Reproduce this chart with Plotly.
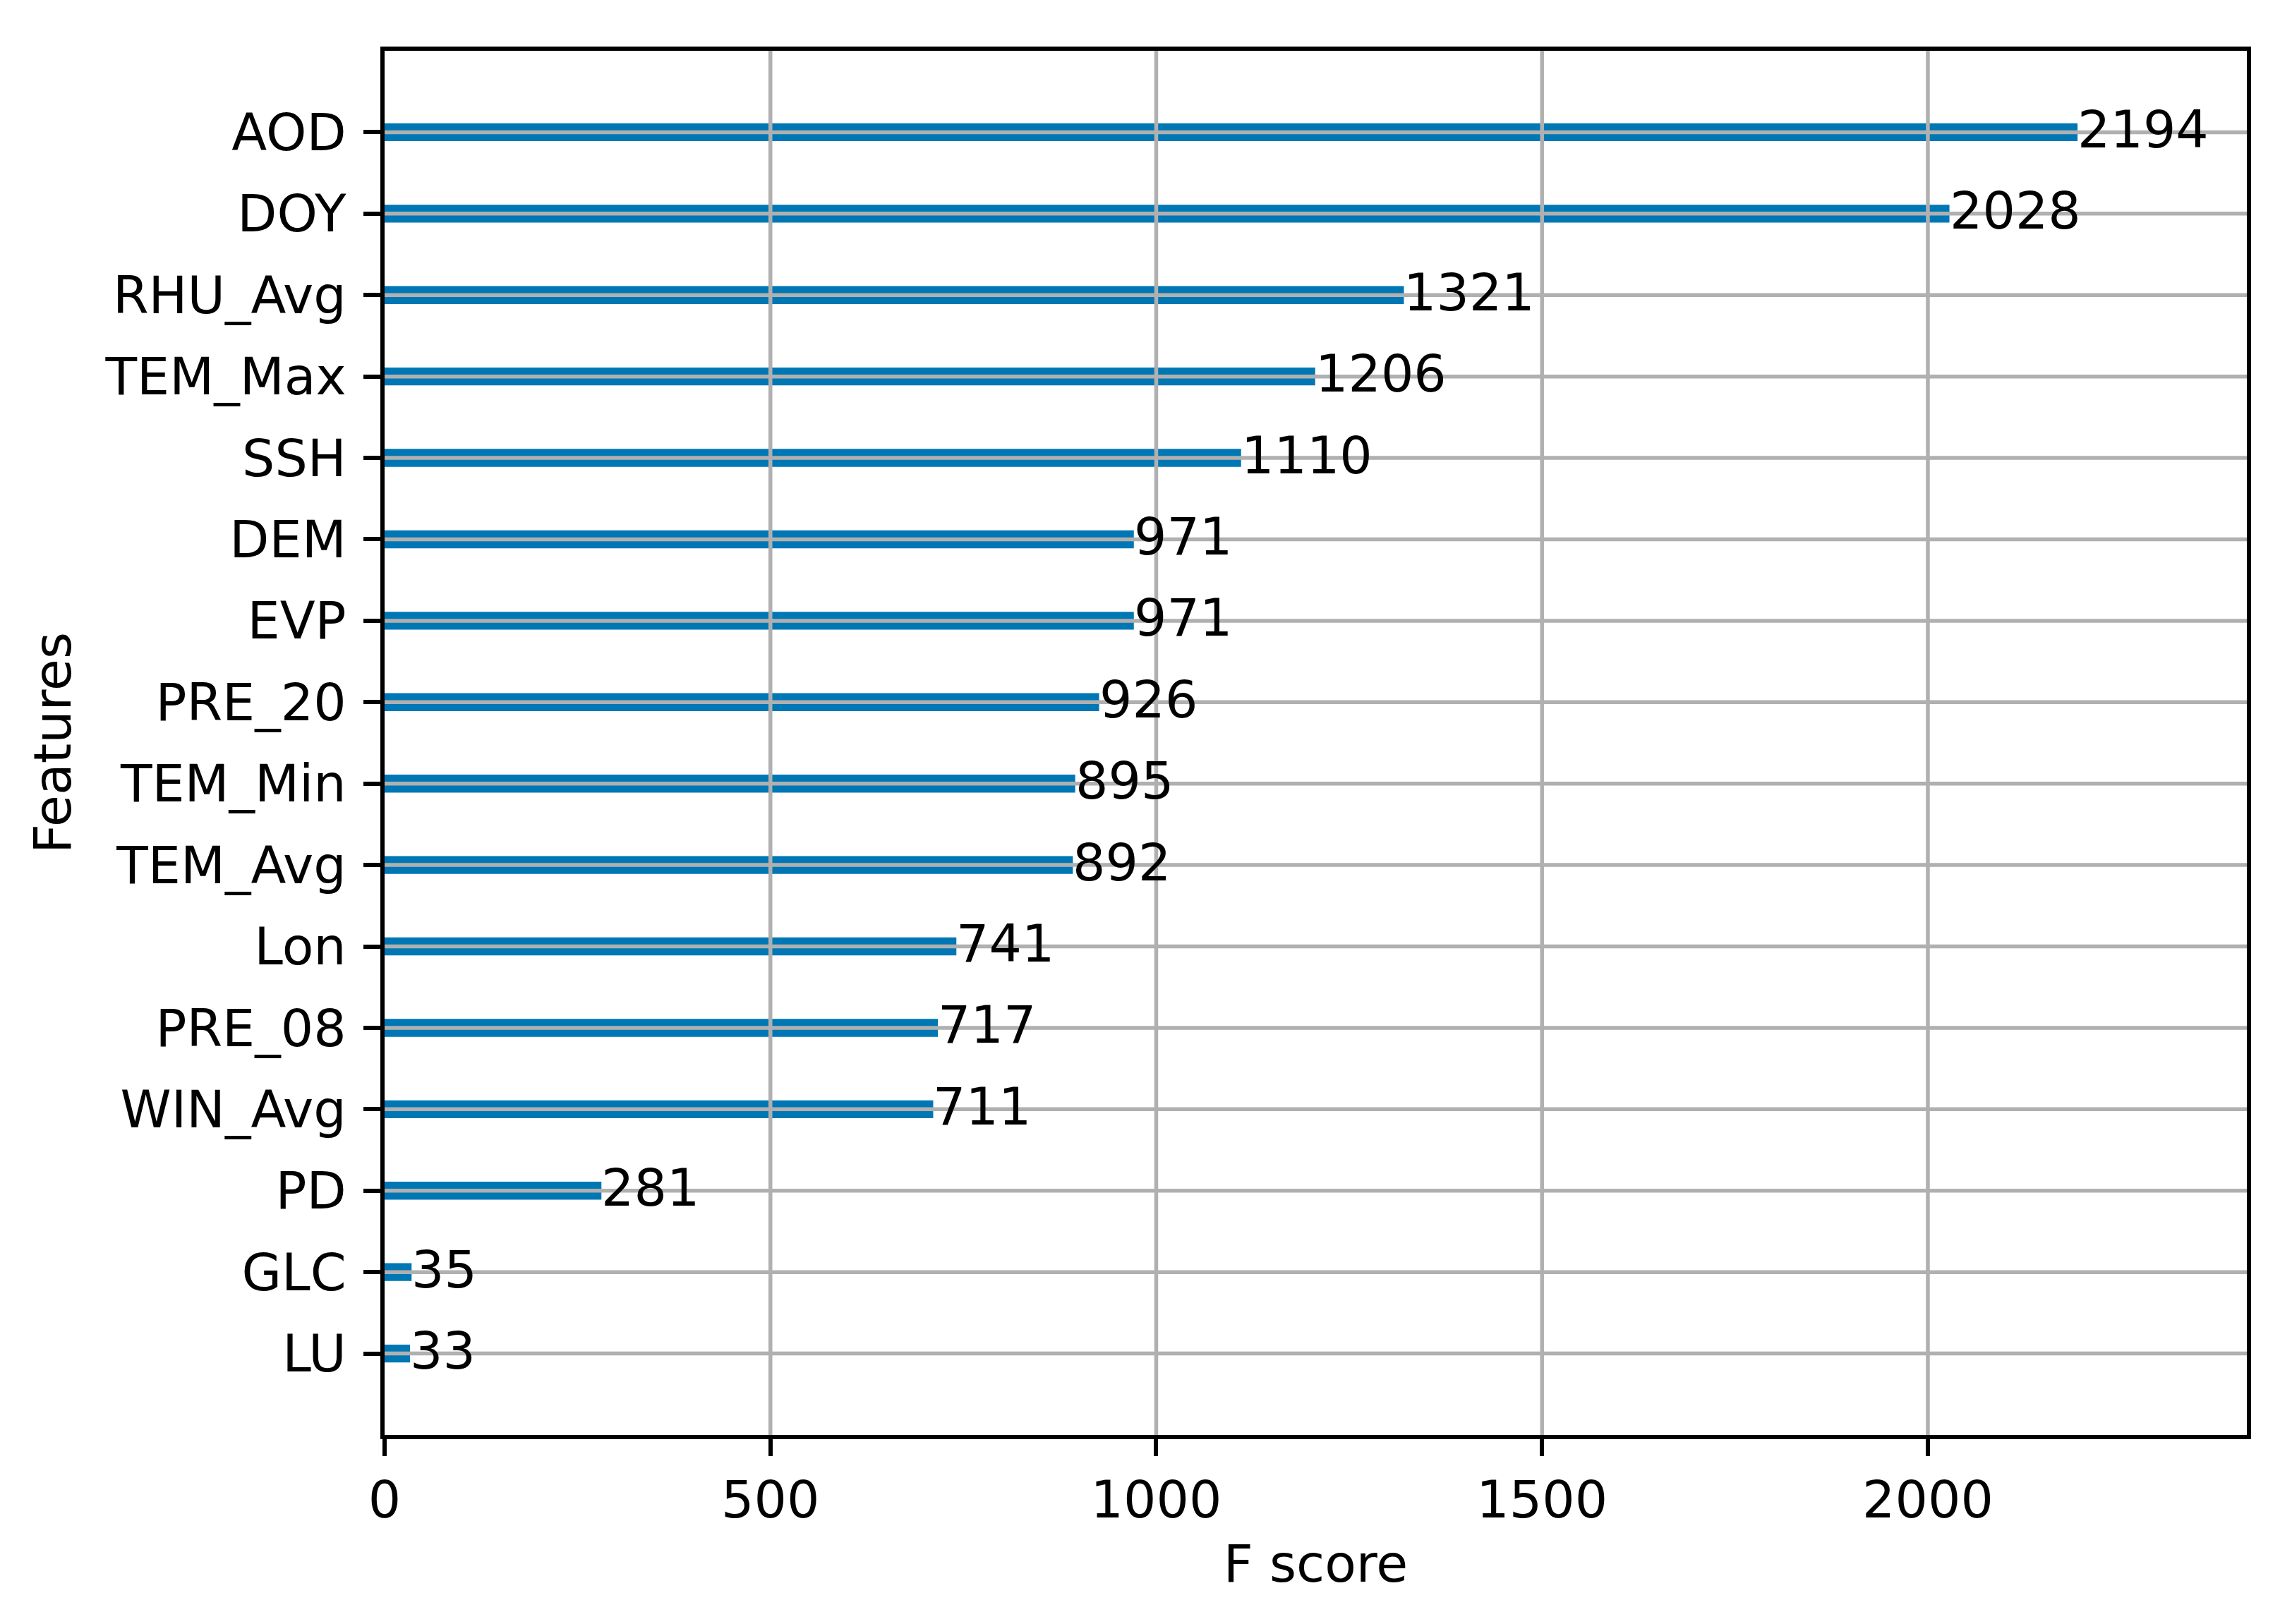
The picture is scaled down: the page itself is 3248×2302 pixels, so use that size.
import plotly.graph_objects as go

# feature importance (F score), top to bottom as in the picture
features = ["AOD", "DOY", "RHU_Avg", "TEM_Max", "SSH", "DEM", "EVP", "PRE_20",
            "TEM_Min", "TEM_Avg", "Lon", "PRE_08", "WIN_Avg", "PD", "GLC", "LU"]
fscore = [2194, 2028, 1321, 1206, 1110, 971, 971, 926,
          895, 892, 741, 717, 711, 281, 35, 33]
xticks = [0, 500, 1000, 1500, 2000]

FONT = "DejaVu Sans"
FS = 73
LW = 5.5
GRID = "#b0b0b0"

fig = go.Figure()
fig.add_trace(go.Bar(
    x=fscore, y=features, orientation="h", width=0.22,
    marker=dict(color="#0077b5", line=dict(width=0)),
    showlegend=False,
))

# value labels next to each bar (like xgboost plot_importance)
for f, v in zip(features, fscore):
    fig.add_annotation(x=v, y=f, text=str(v), showarrow=False,
                       xanchor="left", yanchor="middle", xshift=-2, yshift=4,
                       font=dict(family=FONT, size=FS, color="black"))

# matplotlib draws the grid on top of the bars here, so use shapes
shapes = []
for t in xticks[1:]:
    shapes.append(dict(type="line", xref="x", yref="paper", x0=t, x1=t, y0=0, y1=1,
                       line=dict(color=GRID, width=LW), layer="above"))
for f in features:
    shapes.append(dict(type="line", xref="paper", yref="y", x0=0, x1=1, y0=f, y1=f,
                       line=dict(color=GRID, width=LW), layer="above"))

xmax = max(fscore) * 1.1
n = len(features)
fig.update_layout(
    width=3248, height=2302,
    margin=dict(l=537, r=72, t=64, b=276),
    plot_bgcolor="white", paper_bgcolor="white",
    font=dict(family=FONT, size=FS, color="black"),
    shapes=shapes,
    xaxis=dict(range=[0, xmax], tickvals=xticks, showgrid=False, zeroline=False,
               showline=True, mirror=True, linecolor="black", linewidth=LW,
               ticks="outside", ticklen=24, tickwidth=LW, tickcolor="black",
               title=dict(text="F score", standoff=26, font=dict(size=FS))),
    yaxis=dict(categoryorder="array", categoryarray=features, range=[n, -1],
               showgrid=False, zeroline=False,
               showline=True, mirror=True, linecolor="black", linewidth=LW,
               ticks="outside", ticklen=24, tickwidth=LW, tickcolor="black",
               ticklabelstandoff=10,
               title=dict(text="Features", standoff=26, font=dict(size=FS))),
)

fig.write_html("out.html")
